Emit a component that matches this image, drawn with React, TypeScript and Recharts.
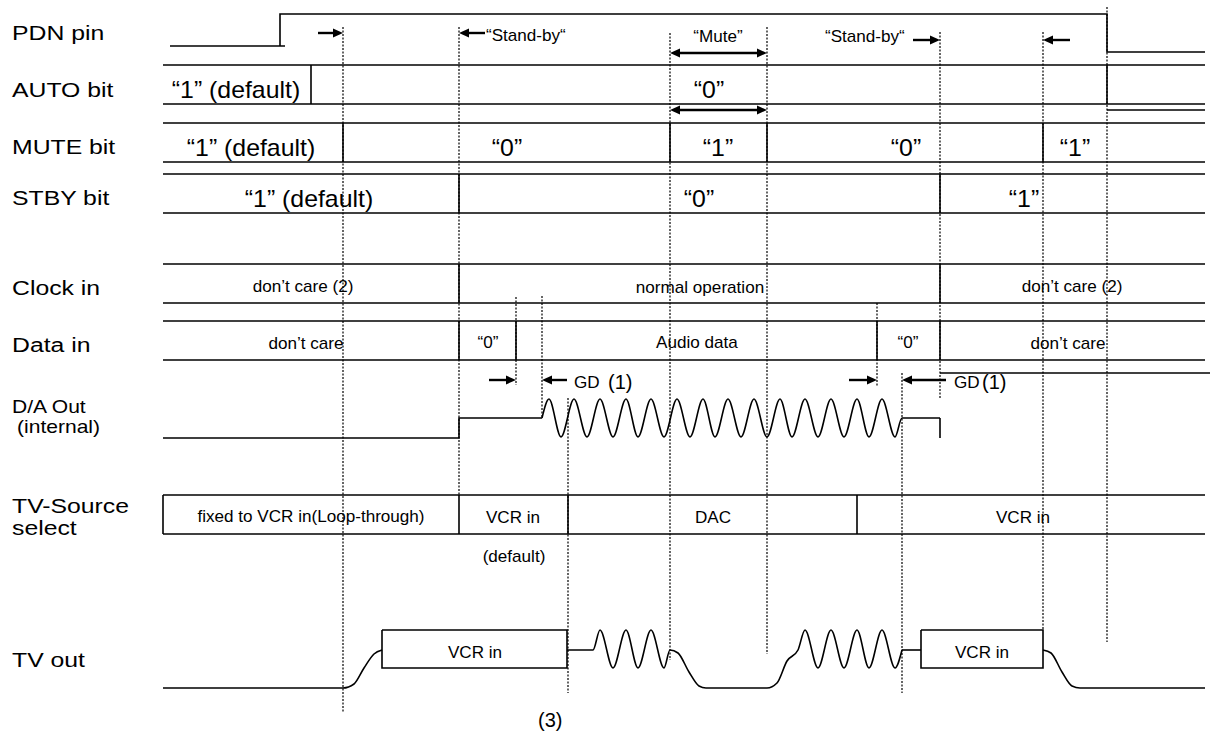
import React from 'react';
import { ComposedChart, Line, Scatter, XAxis, YAxis } from 'recharts';

type Pt = [number, number];

// ---- signal outlines (time axis x, level axis y, in diagram units) ----
const pdnPinLines: Pt[][] = [
  [[170, 46], [285, 46]],
  [[280, 46], [280, 14], [1107, 14], [1107, 52], [1205, 52]],
];
const autoBitLines: Pt[][] = [
  [[163, 65], [1205, 65]],
  [[163, 104], [1205, 104]],
  [[311, 65], [311, 104]],
  [[1107, 65], [1107, 104]],
  [[1107, 110], [1205, 110]],
];
const muteBitLines: Pt[][] = [
  [[163, 123], [1205, 123]],
  [[163, 162], [1205, 162]],
  [[343, 123], [343, 162]],
  [[670, 123], [670, 162]],
  [[767, 123], [767, 162]],
  [[1043, 123], [1043, 162]],
];
const stbyBitLines: Pt[][] = [
  [[163, 174], [1205, 174]],
  [[163, 213], [1205, 213]],
  [[459, 174], [459, 213]],
  [[940, 174], [940, 213]],
];
const clockInLines: Pt[][] = [
  [[163, 264], [1205, 264]],
  [[163, 303], [1205, 303]],
  [[459, 264], [459, 303]],
  [[940, 264], [940, 303]],
];
const dataInLines: Pt[][] = [
  [[163, 321], [1205, 321]],
  [[163, 360], [1205, 360]],
  [[459, 321], [459, 360]],
  [[516, 321], [516, 360]],
  [[877, 321], [877, 360]],
  [[940, 321], [940, 360]],
  [[940, 373], [1210, 373]],
];
const daOutLines: Pt[][] = [
  [[163, 438], [459, 438], [459, 418], [542, 418]],
  [[940, 418], [940, 438]],
];
const daOutWave: Pt[] = [
  [542, 418], [549, 399], [561, 437], [574, 399], [587, 437], [600, 399], [613, 437],
  [626, 399], [638, 437], [651, 399], [664, 437], [677, 399], [690, 437], [703, 399],
  [715, 437], [728, 399], [741, 437], [754, 399], [767, 437], [780, 399], [792, 437],
  [805, 399], [818, 437], [831, 399], [844, 437], [857, 399], [869, 437], [882, 399],
  [895, 437], [902, 418], [940, 418],
];
const tvSourceLines: Pt[][] = [
  [[163, 495], [1205, 495]],
  [[163, 534], [1205, 534]],
  [[163, 495], [163, 534]],
  [[459, 495], [459, 534]],
  [[568, 495], [568, 534]],
  [[857, 495], [857, 534]],
];
const tvOutLines: Pt[][] = [
  [[382, 630], [567, 630], [567, 668], [382, 668], [382, 630]],
  [[902, 650], [921, 650]],
  [[921, 630], [1043, 630], [1043, 668], [921, 668], [921, 630]],
];
const tvOutRise: Pt[] = [[163, 688], [343, 688], [354, 684], [364, 668], [374, 654], [382, 650]];
const tvOutWave: Pt[] = [
  [567, 650], [593, 650], [600, 630], [613, 668], [626, 630], [638, 668], [651, 630],
  [664, 668], [670, 650], [678, 653], [689, 672], [699, 686], [706, 688], [767, 688],
  [777, 683], [787, 661], [798, 650], [805, 630], [818, 668], [831, 630], [844, 668],
  [857, 630], [869, 668], [882, 630], [895, 668], [902, 650],
];
const tvOutFall: Pt[] = [[1043, 650], [1051, 653], [1062, 672], [1072, 686], [1080, 688], [1205, 688]];

// ---- dotted event markers ----
const eventMarkers: Pt[][] = [
  [[343, 27], [343, 712]],
  [[459, 27], [459, 495]],
  [[516, 297], [516, 385]],
  [[542, 296], [542, 418]],
  [[568, 398], [568, 693]],
  [[670, 33], [670, 660]],
  [[767, 27], [767, 654]],
  [[877, 303], [877, 386]],
  [[902, 373], [902, 693]],
  [[940, 32], [940, 398]],
  [[1043, 32], [1043, 630]],
  [[1107, 7], [1107, 642]],
];

// ---- arrows ----
const arrowShafts: Pt[][] = [
  [[318, 33], [335, 33]],
  [[466, 33], [485, 33]],
  [[678, 53], [759, 53]],
  [[678, 110], [759, 110]],
  [[913, 40], [932, 40]],
  [[1051, 40], [1070, 40]],
  [[489, 380], [508, 380]],
  [[550, 380], [567, 380]],
  [[849, 380], [869, 380]],
  [[910, 380], [946, 380]],
];
const arrowHeadsRight = [
  { x: 343, y: 33 }, { x: 767, y: 53 }, { x: 767, y: 110 }, { x: 940, y: 40 },
  { x: 516, y: 380 }, { x: 877, y: 380 },
];
const arrowHeadsLeft = [
  { x: 459, y: 33 }, { x: 670, y: 53 }, { x: 670, y: 110 }, { x: 1043, y: 40 },
  { x: 542, y: 380 }, { x: 902, y: 380 },
];

// ---- texts ----
const rowLabels = [
  { x: 12, y: 40, text: 'PDN pin' },
  { x: 12, y: 97, text: 'AUTO bit' },
  { x: 12, y: 154, text: 'MUTE bit' },
  { x: 12, y: 205, text: 'STBY bit' },
  { x: 12, y: 295, text: 'Clock in' },
  { x: 12, y: 352, text: 'Data in' },
  { x: 12, y: 513, text: 'TV-Source' },
  { x: 12, y: 535, text: 'select' },
  { x: 12, y: 667, text: 'TV out' },
];
const daLabels = [
  { x: 12, y: 413, text: 'D/A Out' },
  { x: 17, y: 433, text: '(internal)' },
];
const bitStates = [
  { x: 236, y: 98, text: '\u201C1\u201D (default)' },
  { x: 709, y: 98, text: '\u201C0\u201D' },
  { x: 251, y: 156, text: '\u201C1\u201D (default)' },
  { x: 507, y: 156, text: '\u201C0\u201D' },
  { x: 718, y: 156, text: '\u201C1\u201D' },
  { x: 906, y: 156, text: '\u201C0\u201D' },
  { x: 1075, y: 156, text: '\u201C1\u201D' },
  { x: 309, y: 207, text: '\u201C1\u201D (default)' },
  { x: 699, y: 207, text: '\u201C0\u201D' },
  { x: 1024, y: 207, text: '\u201C1\u201D' },
];
const notes = [
  { x: 718, y: 42, text: '\u201CMute\u201D' },
  { x: 303, y: 292, text: 'don\u2019t care (2)' },
  { x: 700, y: 293, text: 'normal operation' },
  { x: 1072, y: 292, text: 'don\u2019t care (2)' },
  { x: 306, y: 349, text: 'don\u2019t care' },
  { x: 488, y: 348, text: '\u201C0\u201D' },
  { x: 697, y: 348, text: 'Audio data' },
  { x: 908, y: 348, text: '\u201C0\u201D' },
  { x: 1068, y: 349, text: 'don\u2019t care' },
  { x: 311, y: 522, text: 'fixed to VCR in(Loop-through)' },
  { x: 513, y: 523, text: 'VCR in' },
  { x: 713, y: 523, text: 'DAC' },
  { x: 1023, y: 523, text: 'VCR in' },
  { x: 514, y: 562, text: '(default)' },
  { x: 475, y: 658, text: 'VCR in' },
  { x: 982, y: 658, text: 'VCR in' },
];
const notesLeft = [
  { x: 486, y: 41, text: '\u201CStand-by\u201C' },
  { x: 825, y: 42, text: '\u201CStand-by\u201C' },
  { x: 574, y: 388, text: 'GD' },
  { x: 954, y: 388, text: 'GD' },
];
const refMarks = [
  { x: 608, y: 389, text: '(1)' },
  { x: 982, y: 389, text: '(1)' },
  { x: 538, y: 727, text: '(3)' },
];

const FONT = '"Liberation Sans", Arial, Helvetica, sans-serif';
const toPts = (l: Pt[]) => l.map(([x, y]) => ({ x, y }));

const textShape = (size: number, sx: number, anchor: 'start' | 'middle') => (p: any) => (
  <text
    transform={`translate(${p.cx},${p.cy}) scale(${sx},1)`}
    x={0}
    y={0}
    textAnchor={anchor}
    fontSize={size}
    fontFamily={FONT}
    fill="#000"
  >
    {p.payload?.text}
  </text>
);

const headRight = (p: any) => (
  <polygon points={`${p.cx},${p.cy} ${p.cx - 10},${p.cy - 4.5} ${p.cx - 10},${p.cy + 4.5}`} fill="#000" />
);
const headLeft = (p: any) => (
  <polygon points={`${p.cx},${p.cy} ${p.cx + 10},${p.cy - 4.5} ${p.cx + 10},${p.cy + 4.5}`} fill="#000" />
);

const solidGroups: Pt[][] = [
  ...pdnPinLines,
  ...autoBitLines,
  ...muteBitLines,
  ...stbyBitLines,
  ...clockInLines,
  ...dataInLines,
  ...daOutLines,
  ...tvSourceLines,
  ...tvOutLines,
];
const curves: Pt[][] = [daOutWave, tvOutRise, tvOutWave, tvOutFall];

export default function App() {
  return (
    <div style={{ position: 'absolute', left: 0, top: 0, width: 1210, height: 733, background: '#fff' }}>
      <ComposedChart width={1210} height={733} margin={{ top: 0, right: 0, bottom: 0, left: 0 }}>
        <XAxis type="number" dataKey="x" domain={[0, 1210]} allowDataOverflow hide />
        <YAxis type="number" dataKey="y" domain={[0, 733]} reversed allowDataOverflow hide />
        {eventMarkers.map((l, i) => (
          <Line key={'m' + i} data={toPts(l)} dataKey="y" type="linear" stroke="#000" strokeWidth={1.2}
            strokeDasharray="2 1.5" dot={false} activeDot={false} isAnimationActive={false} />
        ))}
        {solidGroups.map((l, i) => (
          <Line key={'s' + i} data={toPts(l)} dataKey="y" type="linear" stroke="#000" strokeWidth={1.6}
            dot={false} activeDot={false} isAnimationActive={false} />
        ))}
        {curves.map((l, i) => (
          <Line key={'c' + i} data={toPts(l)} dataKey="y" type="monotone" stroke="#000" strokeWidth={1.6}
            dot={false} activeDot={false} isAnimationActive={false} />
        ))}
        {arrowShafts.map((l, i) => (
          <Line key={'a' + i} data={toPts(l)} dataKey="y" type="linear" stroke="#000" strokeWidth={2.4}
            dot={false} activeDot={false} isAnimationActive={false} />
        ))}
        <Scatter data={arrowHeadsRight} dataKey="y" shape={headRight} isAnimationActive={false} />
        <Scatter data={arrowHeadsLeft} dataKey="y" shape={headLeft} isAnimationActive={false} />
        <Scatter data={rowLabels} dataKey="y" shape={textShape(21, 1.18, 'start')} isAnimationActive={false} />
        <Scatter data={daLabels} dataKey="y" shape={textShape(18, 1.17, 'start')} isAnimationActive={false} />
        <Scatter data={bitStates} dataKey="y" shape={textShape(23, 1.08, 'middle')} isAnimationActive={false} />
        <Scatter data={notes} dataKey="y" shape={textShape(16, 1.07, 'middle')} isAnimationActive={false} />
        <Scatter data={notesLeft} dataKey="y" shape={textShape(16, 1.07, 'start')} isAnimationActive={false} />
        <Scatter data={refMarks} dataKey="y" shape={textShape(20, 1.0, 'start')} isAnimationActive={false} />
      </ComposedChart>
    </div>
  );
}
